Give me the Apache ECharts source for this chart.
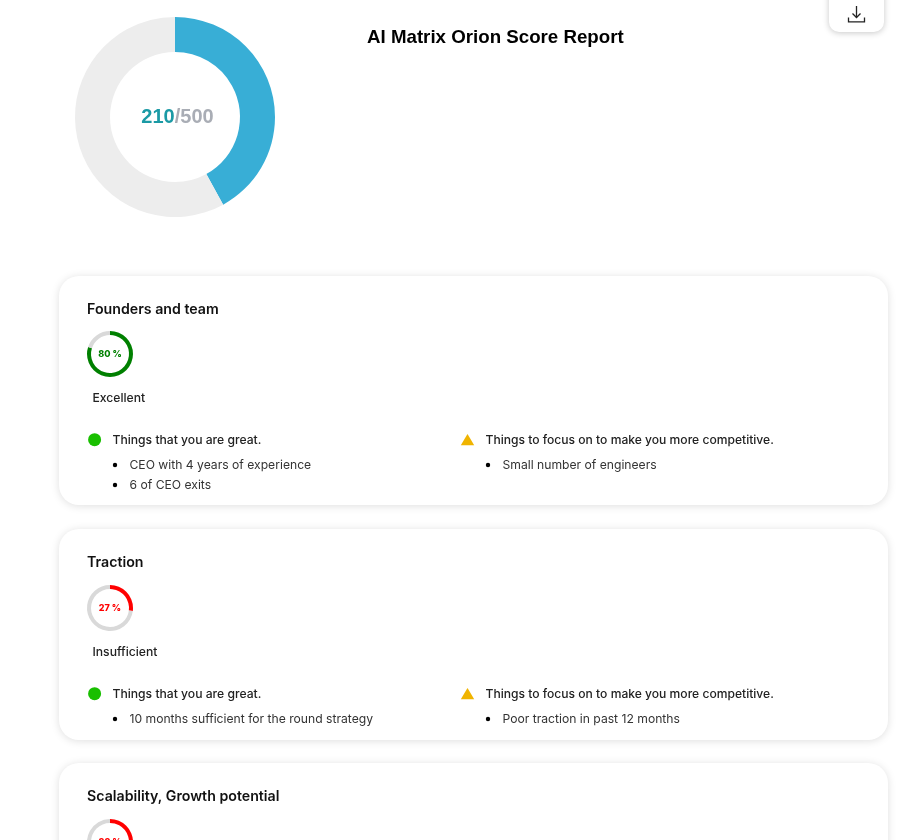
<!DOCTYPE html>
<html><head><meta charset="utf-8">
<style>html,body{margin:0;padding:0;background:#fff;overflow:hidden}#c{width:923px;height:840px}</style>
<script src="https://cdn.jsdelivr.net/npm/echarts@6/dist/echarts.min.js"></script>
</head><body><div id="c"></div>
<script>
var reportTitle = 'AI Matrix Orion Score Report';
var totalScore = 210;
var totalMax = 500;
var sectionNames = ['Founders and team', 'Traction', 'Scalability, Growth potential'];
var sectionScores = [80, 27, 33];
var sectionColors = ['#008000', '#ff0000', '#ff0000'];
var sectionRatings = ['Excellent', 'Insufficient', ''];
var greatHeading = 'Things that you are great.';
var focusHeading = 'Things to focus on to make you more competitive.';
var greatItems = [['CEO with 4 years of experience', '6 of CEO exits'], ['10 months sufficient for the round strategy'], []];
var focusItems = [['Small number of engineers'], ['Poor traction in past 12 months'], []];
var cardTops = [276, 529, 763];
var cardBottoms = [505, 740, 1000];
var bodyShifts = [0, 1, 1];

var INTER = 'Inter, "Noto Sans", sans-serif';
var g = [];
function txt(x, y, s, size, weight, color) {
  g.push({type: 'text', z: 20, silent: true, x: x, y: y, style: {
    text: s, fontFamily: INTER, fontSize: size, fontWeight: weight, fill: color,
    textAlign: 'left', textVerticalAlign: 'middle'}});
}
function bullet(x, y) {
  g.push({type: 'circle', z: 20, silent: true, shape: {cx: x, cy: y, r: 2.2}, style: {fill: '#000'}});
}
var series = [{
  type: 'pie', silent: true, animation: false, center: [175, 117], radius: [65, 100], startAngle: 90,
  labelLine: {show: false}, emphasis: {disabled: true},
  label: {show: true, position: 'center', offset: [2.5, 0], formatter: '{a|' + totalScore + '}{b|/' + totalMax + '}',
    rich: {a: {fontFamily: 'Liberation Sans', fontWeight: 'bold', fontSize: 20, color: '#1b9aa5'},
           b: {fontFamily: 'Liberation Sans', fontWeight: 'bold', fontSize: 20, color: '#a9adb5'}}},
  data: [{value: totalScore, itemStyle: {color: '#38aed6'}},
         {value: totalMax - totalScore, itemStyle: {color: '#ededed'}, label: {show: false}}]
}];
g.push({type: 'rect', z: 1, silent: true, shape: {x: 829, y: -20, width: 55, height: 52, r: 10},
  style: {fill: '#fff', shadowBlur: 6, shadowColor: 'rgba(0,0,0,0.22)', shadowOffsetY: 1}});
g.push({type: 'polyline', z: 20, silent: true, shape: {points: [[848.5, 17.5], [848.5, 21.8], [864.5, 21.8], [864.5, 17.5]]}, style: {stroke: '#222', lineWidth: 1.3, fill: null}});
g.push({type: 'polyline', z: 20, silent: true, shape: {points: [[856.5, 6], [856.5, 17.5]]}, style: {stroke: '#222', lineWidth: 1.3, fill: null}});
g.push({type: 'polyline', z: 20, silent: true, shape: {points: [[852.5, 13.5], [856.5, 17.5], [860.5, 13.5]]}, style: {stroke: '#222', lineWidth: 1.3, fill: null}});

sectionNames.forEach(function (name, i) {
  var t = cardTops[i];
  var b = t + bodyShifts[i];
  g.push({type: 'rect', z: 1, silent: true, shape: {x: 59, y: t, width: 829, height: cardBottoms[i] - t, r: 20},
    style: {fill: '#fff', shadowBlur: 8, shadowColor: 'rgba(0,0,0,0.13)', shadowOffsetY: 1}});
  txt(87, t + 33.5, name, 14.2, 600, '#111');
  var cy = b + 78;
  series.push({
    type: 'pie', silent: true, animation: false, center: [110, cy], radius: [19, 23], startAngle: 90,
    labelLine: {show: false}, emphasis: {disabled: true},
    label: {show: true, position: 'center', formatter: sectionScores[i] + ' %', fontFamily: INTER,
      fontSize: 9, fontWeight: 800, color: sectionColors[i]},
    data: [{value: sectionScores[i], itemStyle: {color: sectionColors[i]}},
           {value: 100 - sectionScores[i], itemStyle: {color: '#d9d9d9'}, label: {show: false}}]
  });
  if (!sectionRatings[i]) return;
  txt(92.5, b + 122, sectionRatings[i], 12.15, 500, '#222');
  var h = b + 164;
  g.push({type: 'circle', z: 20, silent: true, shape: {cx: 94.6, cy: h - 0.3, r: 6.5}, style: {fill: '#19bf00'}});
  txt(112.5, h, greatHeading, 12.15, 500, '#222');
  g.push({type: 'polygon', z: 20, silent: true, shape: {points: [[467.5, h - 6], [474.2, h + 5.2], [460.8, h + 5.2]]}, style: {fill: '#f0b400'}});
  txt(485.5, h, focusHeading, 12.1, 500, '#222');
  greatItems[i].forEach(function (s, k) {
    var y = h + 25 + k * 20;
    bullet(115, y);
    txt(129.5, y, s, 12.15, 400, '#333');
  });
  focusItems[i].forEach(function (s, k) {
    var y = h + 25 + k * 20;
    bullet(488, y);
    txt(502.5, y, s, 12.15, 400, '#333');
  });
});

var chart = echarts.init(document.getElementById('c'), null, {renderer: 'canvas'});
chart.setOption({
  animation: false,
  backgroundColor: '#fff',
  title: {text: reportTitle, left: 367, top: 28, textStyle: {fontFamily: 'Liberation Sans', fontWeight: 'bold', fontSize: 18.72, color: '#000'}, padding: 0},
  graphic: {elements: g},
  series: series
});
</script></body></html>
